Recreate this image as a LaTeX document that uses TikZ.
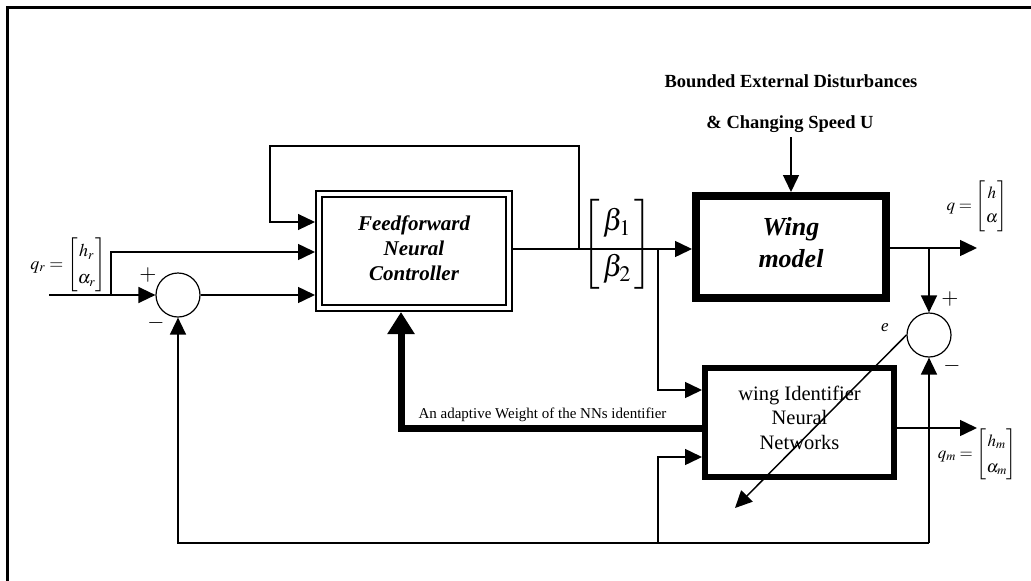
\documentclass[tikz,border=0pt]{standalone}
\usepackage{amsmath}
\usepackage{mathptmx}
\usepackage{fontspec}
\setmainfont{Liberation Serif}
\usetikzlibrary{arrows.meta,positioning}
\newcommand\lowr[1]{\rule[-#1]{0pt}{0pt}}
\tikzset{
  blk/.style={draw,inner sep=0pt,align=center},
  ctl/.style={blk,line width=2.4pt,double=white,double distance=3.6pt,outer sep=4.2pt,minimum width=189.6pt,minimum height=113.6pt,font=\fontsize{21}{25}\selectfont\bfseries\itshape},
  plant/.style={blk,line width=8pt,minimum width=190pt,minimum height=102pt,font=\fontsize{26}{32}\selectfont\bfseries\itshape},
  idbox/.style={blk,line width=6pt,minimum width=189pt,minimum height=109pt,font=\fontsize{20.5}{24.5}\selectfont},
  sumc/.style={circle,draw,line width=1.2pt,minimum size=44pt,inner sep=0pt},
  lbl/.style={inner sep=0pt,font=\fontsize{18}{21}\selectfont},
  sgn/.style={inner sep=0pt,font=\fontsize{22}{22}\selectfont},
  ar/.style={-{Triangle[length=17pt,width=16pt]},line width=1.5pt},
  arw/.style={-{Triangle[length=22pt,width=26pt]},line width=7pt},
}
\begin{document}
\begin{tikzpicture}[x=1pt,y=-1pt]
  \useasboundingbox (0,0) rectangle (1031,581);
  \draw[line width=3pt] (1031,7) -- (7,7) -- (7,581);
  \node[ctl] (ctrl) at (414,251) {Feedforward\\Neural\\Controller\lowr{6.5pt}};
  \node[plant] (wing) at (791,247) {Wing\\model\lowr{10pt}};
  \node[idbox] (id) at (799.5,422.5) {wing Identifier\\Neural\\Networks\lowr{10pt}};
  \node[sumc] (sum1) at (178,295) {};
  \node[sumc] (sum2) at (929,335) {};
  \node[lbl,anchor=east] (qr) at (106,264.5) {\renewcommand\arraystretch{1.3}$q_r=\begin{bmatrix}h_r\\\alpha_r\end{bmatrix}$};
  \node[inner sep=0pt,font=\fontsize{30}{36}\selectfont] (beta) at (617,244.5) {\renewcommand\arraystretch{1.27}$\begin{bmatrix}\,\beta_1\,\\\,\beta_2\,\end{bmatrix}$};
  \node[lbl,font=\fontsize{17}{20}\selectfont,anchor=east] (qlab) at (1008,206) {\renewcommand\arraystretch{1.2}$q=\begin{bmatrix}h\\\alpha\end{bmatrix}$};
  \node[lbl,font=\fontsize{17}{20}\selectfont,anchor=east] (qmlab) at (1017,454) {\renewcommand\arraystretch{1.3}$q_m=\begin{bmatrix}h_m\\\alpha_m\end{bmatrix}$};
  \node[font=\fontsize{18.5}{22}\selectfont\bfseries,anchor=base] (dist1) at (791,87) {Bounded External Disturbances};
  \node[font=\fontsize{18.5}{22}\selectfont\bfseries,anchor=base] (dist2) at (790,128) {\& Changing Speed U};
  \node[font=\fontsize{15}{18}\selectfont,anchor=base west] (wlab) at (415,418) {An adaptive Weight of the NNs identifier};
  \node[font=\fontsize{17}{17}\selectfont\itshape] (elab) at (885,328) {e};
  \node[sgn] (p1) at (148,275) {$+$};
  \node[sgn] (m1) at (156,323) {$-$};
  \node[sgn] (p2) at (950,299) {$+$};
  \node[sgn] (m2) at (952,366) {$-$};
  \coordinate (qin) at (49,295);
  \coordinate (jr) at (111,295);
  \coordinate (jr2) at (111,252);
  \coordinate (lpA) at (270,222);
  \coordinate (lpB) at (270,146);
  \coordinate (lpC) at (579,146);
  \coordinate (jb) at (579,249);
  \coordinate (bL) at (567,249);
  \coordinate (bR) at (652,249);
  \coordinate (jd) at (658,249);
  \coordinate (jd2) at (658,390);
  \coordinate (dU) at (791,137);
  \coordinate (jq) at (929,248);
  \coordinate (qout) at (977,248);
  \coordinate (qmout) at (977,428);
  \coordinate (fbR) at (929,543);
  \coordinate (fbL) at (178,543);
  \coordinate (fbM) at (658,543);
  \coordinate (fbM2) at (658,457);
  \coordinate (wL) at (401,428);
  \coordinate (eEnd) at (735,508);
  \draw[ar] (qin) -- (sum1.west);
  \draw[ar] (jr) -- (jr2) -- (ctrl.west |- jr2);
  \draw[ar] (sum1.east) -- (ctrl.west |- sum1.east);
  \draw[ar,line width=1.1pt] (jb) -- (lpC) -- (lpB) -- (lpA) -- (ctrl.west |- lpA);
  \draw[ar] (ctrl.east |- jb) -- (wing.west |- jb);
  \draw[line width=2.4pt] (bL) -- (bR);
  \draw[ar] (jd) -- (jd2) -- (id.west |- jd2);
  \draw[ar] (dU) -- (wing.north);
  \draw[ar] (wing.east |- jq) -- (qout);
  \draw[ar] (jq) -- (sum2.north);
  \draw[ar] (id.east |- qmout) -- (qmout);
  \draw[ar] (fbR) -- (sum2.south);
  \draw[ar] (fbR) -- (fbL) -- (sum1.south);
  \draw[ar] (fbM) -- (fbM2) -- (id.west |- fbM2);
  \draw[arw] (id.west |- wL) -- (wL) -- (ctrl.south -| wL);
  \draw[ar] (sum2.west) -- (eEnd);
\end{tikzpicture}
\end{document}
